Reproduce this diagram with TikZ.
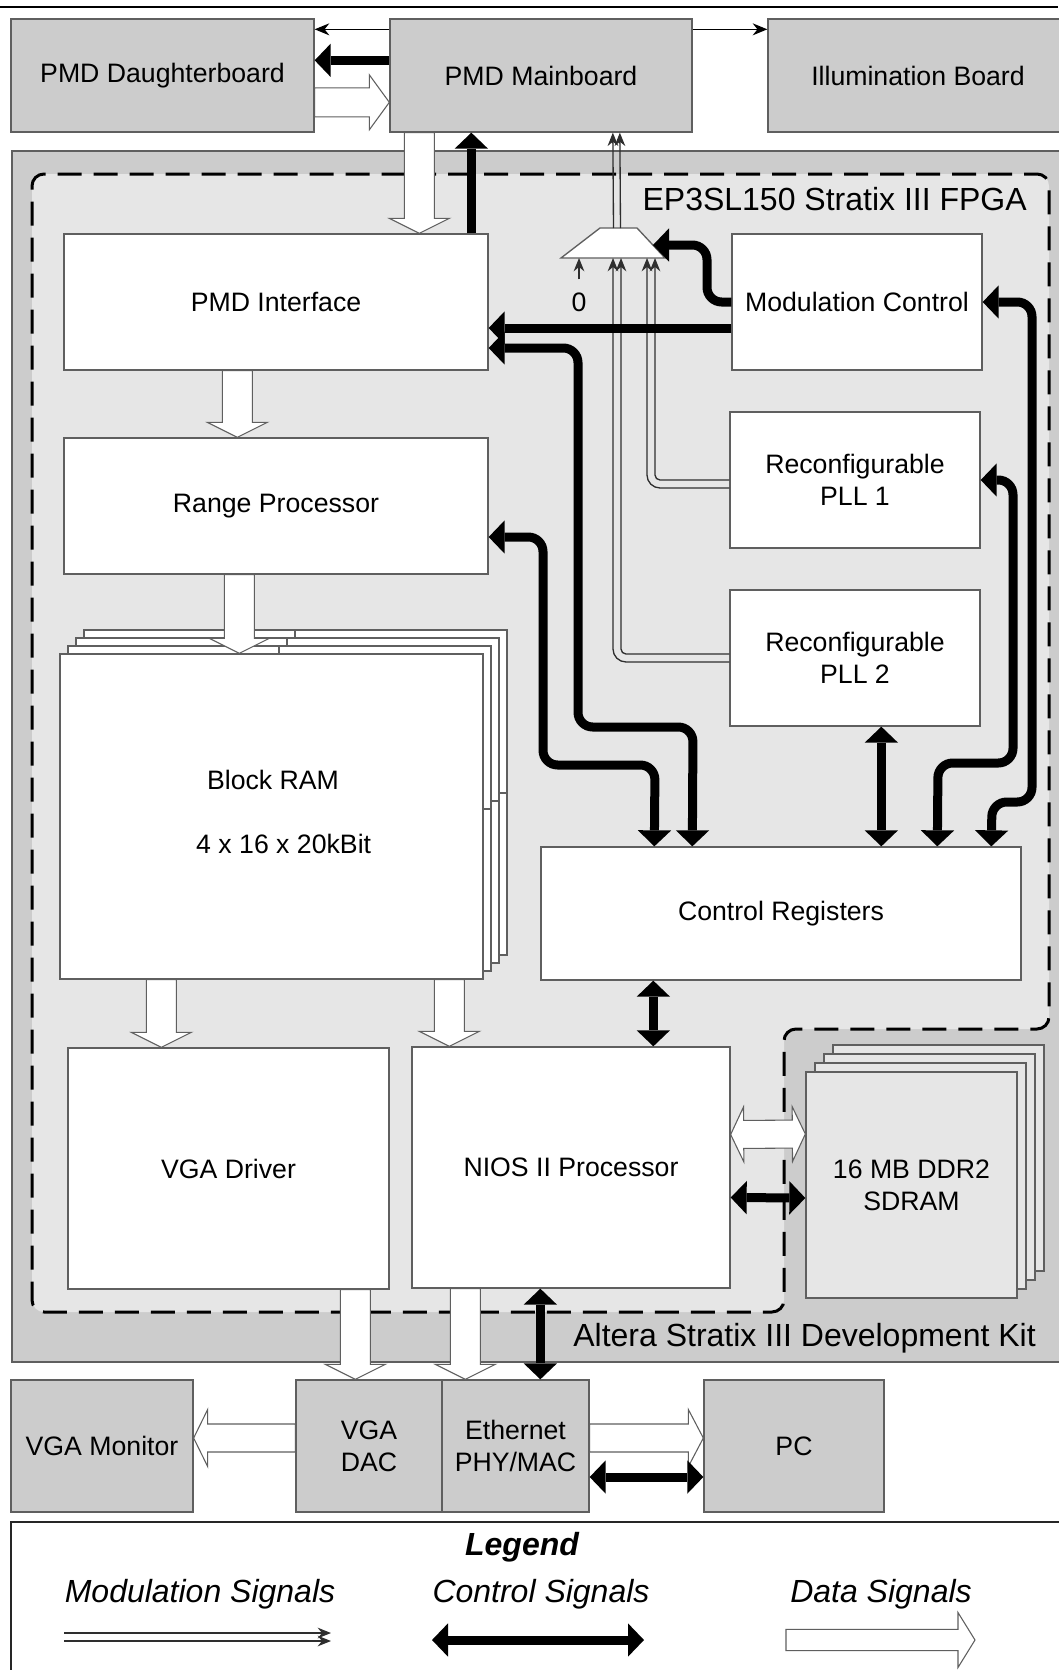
\documentclass[tikz,border=0pt]{standalone}
\usepackage{fontspec}
\setmainfont{Liberation Sans}
\usetikzlibrary{arrows.meta,calc}
\definecolor{kitgray}{HTML}{CCCCCC}
\definecolor{fpgagray}{HTML}{E6E6E6}
\definecolor{bordergray}{HTML}{5F5F5F}
\definecolor{modline}{HTML}{2E2E2E}
\newcommand\fatarr[5]{%
  \coordinate (fa-s) at (#1);
  \coordinate (fa-t) at (#2);
  \coordinate (fa-h) at ($(fa-t)!#5!(fa-s)$);
  \draw[dataarrow] ($(fa-s)!#3!90:(fa-t)$) -- ($(fa-h)!#3!90:(fa-t)$) -- ($(fa-h)!#4!90:(fa-t)$) -- (fa-t) -- ($(fa-h)!#4!-90:(fa-t)$) -- ($(fa-h)!#3!-90:(fa-t)$) -- ($(fa-s)!#3!-90:(fa-t)$) -- cycle;
}
\newcommand\fatarrdbl[5]{%
  \coordinate (fa-s) at (#1);
  \coordinate (fa-t) at (#2);
  \coordinate (fa-h) at ($(fa-t)!#5!(fa-s)$);
  \coordinate (fa-g) at ($(fa-s)!#5!(fa-t)$);
  \draw[dataarrow] (fa-s) -- ($(fa-g)!#4!90:(fa-t)$) -- ($(fa-g)!#3!90:(fa-t)$) -- ($(fa-h)!#3!90:(fa-t)$) -- ($(fa-h)!#4!90:(fa-t)$) -- (fa-t) -- ($(fa-h)!#4!-90:(fa-t)$) -- ($(fa-h)!#3!-90:(fa-t)$) -- ($(fa-g)!#3!-90:(fa-t)$) -- ($(fa-g)!#4!-90:(fa-t)$) -- cycle;
}
% block from its corner coordinates (pixels)
\newcommand\mkblock[7][wbox]{%
  \pgfmathsetmacro\mkbw{(#5-#3)*0.75}%
  \pgfmathsetmacro\mkbh{(#6-#4)*0.75}%
  \node[#1, minimum width=\mkbw pt, minimum height=\mkbh pt] (#2) at ({(#3+#5)/2},{(#4+#6)/2}) {#7};%
}
\tikzset{
  txt/.style={font=\fontsize{20}{24}\selectfont},
  biglabel/.style={font=\fontsize{24}{29}\selectfont, inner sep=0pt},
  base/.style={txt, draw=bordergray, line width=1pt, inner sep=0pt, align=center},
  wbox/.style={base, fill=white},
  gbox/.style={base, fill=kitgray},
  lbox/.style={base, fill=fpgagray},
  legbox/.style={draw=black!85, line width=1.5pt, fill=white, inner sep=0pt},
  page/.style={draw=bordergray, line width=1pt},
  fpgaedge/.style={draw=black, line width=2.25pt, dash pattern=on 18pt off 9pt, rounded corners=9pt},
  ctrl/.style={line width=6.75pt, rounded corners=11pt, -{Triangle[length=12pt,width=25pt,line width=0pt]}},
  ctrlb/.style={line width=6.75pt, rounded corners=11pt, {Triangle[length=12pt,width=25pt,line width=0pt]}-{Triangle[length=12pt,width=25pt,line width=0pt]}},
  thinarr/.style={line width=1pt, -{Stealth[length=11pt,width=9pt]}},
  modarr/.style={line width=1pt, draw=modline, -{Stealth[length=10pt,width=8pt]}},
  dataarrow/.style={draw=bordergray, line width=0.8pt, fill=white, line join=miter},
}
\begin{document}
\begin{tikzpicture}[x=0.75pt,y=-0.75pt]
\useasboundingbox (0,0) rectangle (1058,1670);
\fill[white] (0,0) rectangle (1058,1670);

% top rule
\draw[line width=1.5pt] (0,7) -- (1058,7);

% boards on top
\mkblock[gbox]{db}{11}{19}{314}{132}{PMD Daughterboard}
\mkblock[gbox]{mb}{390}{19}{692}{132}{PMD Mainboard}
\mkblock[gbox]{ib}{768}{19}{1068}{132}{Illumination Board}

% development kit
\mkblock[gbox]{kit}{12}{151}{1066}{1362}{}
\fill[fpgagray, rounded corners=9pt] (400,174) -- (1049,174) -- (1049,1029) -- (784,1029) -- (784,1312) -- (32,1312) -- (32,174) -- cycle;
\draw[fpgaedge] (400,174) -- (1049,174) -- (1049,1029) -- (784,1029) -- (784,1312) -- (32,1312) -- (32,174) -- cycle;
\node[biglabel, anchor=base east] (fpgalbl) at (1027,210) {EP3SL150 Stratix III FPGA};
\node[biglabel, anchor=base east] (kitlbl) at (1036,1346) {Altera Stratix III Development Kit};

% FPGA blocks
\mkblock{pmdi}{64}{234}{488}{370}{PMD Interface}
\mkblock{rp}{64}{438}{488}{574}{Range Processor}
\foreach \k in {3,2,1} {
  \draw[page, fill=white] (60+8*\k,654-8*\k) rectangle (483+8*\k,979-8*\k);
  \draw[page] (271+8*\k,654-8*\k) -- (271+8*\k,662-8*\k);
  \draw[page] (475+8*\k,817-8*\k) -- (483+8*\k,817-8*\k);
}
\mkblock{bram}{60}{654}{483}{979}{}
\node[txt, align=center, inner sep=0pt] (bramtxt) at (273,812) {Block RAM\\[24pt]\hspace*{16pt}4 x 16 x 20kBit};
\mkblock{mc}{732}{234}{982}{370}{Modulation Control}
\mkblock{pll1}{730}{412}{980}{548}{Reconfigurable\\PLL 1}
\mkblock{pll2}{730}{590}{980}{726}{Reconfigurable\\PLL 2}
\mkblock{cr}{541}{847}{1021}{980}{Control Registers}
\mkblock{vga}{68}{1048}{389}{1289}{VGA Driver}
\mkblock{nios}{412}{1047}{730}{1288}{NIOS II Processor}
\foreach \k in {3,2,1} {
  \draw[page, fill=fpgagray] (806+9*\k,1072-9*\k) rectangle (1017+9*\k,1298-9*\k);
}
\mkblock[lbox]{sdram}{806}{1072}{1017}{1298}{16 MB DDR2\\SDRAM}

% multiplexer
\coordinate (muxtl) at (600,228);
\coordinate (muxtr) at (637,228);
\coordinate (muxbr) at (665,258);
\coordinate (muxbl) at (561,258);
\draw[page, fill=white] (muxtl) -- (muxtr) -- (muxbr) -- (muxbl) -- cycle;
\coordinate (muxout) at (617,228);
\coordinate (muxin0) at (579,258);
\coordinate (muxin1) at (617,258);
\coordinate (muxin2) at (651,258);
\coordinate (muxctl) at (653,245);
\node[txt, inner sep=0pt] (zero) at (579,302) {0};

% boards below
\mkblock[gbox]{mon}{11}{1380}{193}{1512}{VGA Monitor}
\mkblock[gbox]{dac}{296}{1380}{442}{1512}{VGA\\DAC}
\mkblock[gbox]{eth}{442}{1380}{589}{1512}{Ethernet\\PHY/MAC}
\mkblock[gbox]{pc}{704}{1380}{884}{1512}{PC}

% ---- connectors on top
\draw[thinarr] ($(mb.north west)+(0,11)$) -- ($(db.north east)+(0,11)$);
\draw[thinarr] ($(mb.north east)+(0,11)$) -- ($(ib.north west)+(0,11)$);
\draw[ctrl] ($(mb.north west)+(0,42)$) -- ($(db.north east)+(0,42)$);
\fatarr{$(db.north east)+(0,84)$}{$(mb.north west)+(0,84)$}{10.9pt}{20.6pt}{15pt}
\fatarr{$(mb.south west)+(30,0)$}{$(pmdi.north west)+(356,0)$}{11.25pt}{22.5pt}{11.25pt}
\draw[ctrl] ($(pmdi.north west)+(408,0)$) -- ($(mb.south west)+(82,0)$);

% ---- modulation signals
\draw[modarr] ($(muxout)+(-3.5,0)$) -- ($(mb.south west)+(223.5,0)$);
\draw[modarr] ($(muxout)+(3.5,0)$) -- ($(mb.south west)+(230.5,0)$);
\draw[modarr] ($(zero.north)+(0,-13)$) -- (muxin0);
\draw[modarr, rounded corners=9.75pt] ($(pll2.west)+(0,4)$) -| ($(muxin1)+(-4,0)$);
\draw[modarr, rounded corners=3.75pt] ($(pll2.west)+(0,-4)$) -| ($(muxin1)+(4,0)$);
\draw[modarr, rounded corners=9.75pt] ($(pll1.west)+(0,8)$) -| ($(muxin2)+(-4,0)$);
\draw[modarr, rounded corners=3.75pt] (pll1.west) -| ($(muxin2)+(4,0)$);

% ---- data signals inside
\fatarr{$(pmdi.south west)+(174,0)$}{$(rp.north west)+(174,0)$}{11.25pt}{22.5pt}{11.25pt}
\fatarr{$(rp.south west)+(176,0)$}{$(bram.north west)+(180,0)$}{11.25pt}{22.5pt}{11.25pt}
\fatarr{$(bram.south west)+(102,0)$}{$(vga.north west)+(94,0)$}{11.25pt}{22.5pt}{11.25pt}
\fatarr{$(bram.south west)+(390,0)$}{$(nios.north west)+(38,0)$}{11.25pt}{22.5pt}{11.25pt}
\fatarrdbl{$(nios.east)+(0,-33)$}{$(sdram.west)+(0,-51)$}{10.5pt}{20.6pt}{9.75pt}
\fatarr{$(vga.south west)+(288,0)$}{$(dac.north west)+(60,0)$}{11.25pt}{22.5pt}{11.25pt}
\fatarr{$(nios.south west)+(54,0)$}{$(eth.north west)+(24,0)$}{11.25pt}{22.5pt}{11.25pt}
\fatarr{$(dac.west)+(0,-8)$}{$(mon.east)+(0,-8)$}{10.5pt}{21.4pt}{10.5pt}
\fatarr{$(eth.east)+(0,-8)$}{$(pc.west)+(0,-8)$}{10.5pt}{21.4pt}{11.25pt}

% ---- control signals
\draw[ctrl] (mc.west) -- (707,302) -- (707,245) -- (muxctl);
\draw[ctrl] ($(mc.west)+(0,26)$) -- ($(pmdi.east)+(0,26)$);
\draw[ctrlb] ($(pmdi.east)+(0,46)$) -- (578,348) -- (578,727) -- (693,727) -- ($(cr.north west)+(152,0)$);
\draw[ctrlb] ($(rp.east)+(0,31)$) -- (543,537) -- (543,765) -- (655,765) -- ($(cr.north west)+(114,0)$);
\draw[ctrlb] (mc.east) -- (1032,302) -- (1032,802) -- (992,802) -- ($(cr.north west)+(451,0)$);
\draw[ctrlb] (pll1.east) -- (1013,480) -- (1013,763) -- (938,763) -- ($(cr.north west)+(397,0)$);
\draw[ctrlb] ($(pll2.south west)+(152,0)$) -- ($(cr.north west)+(341,0)$);
\draw[ctrlb] ($(cr.south west)+(113,0)$) -- ($(nios.north west)+(242,0)$);
\draw[ctrlb] ($(nios.east)+(0,30)$) -- ($(sdram.west)+(0,13)$);
\draw[ctrlb] ($(nios.south west)+(129,0)$) -- ($(eth.north west)+(99,0)$);
\draw[ctrlb] ($(eth.east)+(0,31)$) -- ($(pc.west)+(0,31)$);

% ---- legend
\mkblock[legbox]{legend}{11}{1522}{1068}{1690}{}
\node[font=\bfseries\itshape\fontsize{24}{29}\selectfont] (legt) at (522,1547) {Legend};
\node[font=\itshape\fontsize{24}{29}\selectfont] (legm) at (200,1594) {Modulation Signals};
\node[font=\itshape\fontsize{24}{29}\selectfont] (legc) at (541,1594) {Control Signals};
\node[font=\itshape\fontsize{24}{29}\selectfont] (legd) at (881,1594) {Data Signals};
\coordinate (lmA) at (64,1637);
\coordinate (lmB) at (331,1637);
\draw[modarr] ($(lmA)+(0,-4)$) -- ($(lmB)+(0,-4)$);
\draw[modarr] ($(lmA)+(0,4)$) -- ($(lmB)+(0,4)$);
\coordinate (lcA) at (432,1640);
\coordinate (lcB) at (644,1640);
\draw[ctrlb] (lcA) -- (lcB);
\coordinate (ldA) at (786,1640);
\coordinate (ldB) at (975,1640);
\fatarr{ldA}{ldB}{8pt}{20.6pt}{12.75pt}
\end{tikzpicture}
\end{document}
